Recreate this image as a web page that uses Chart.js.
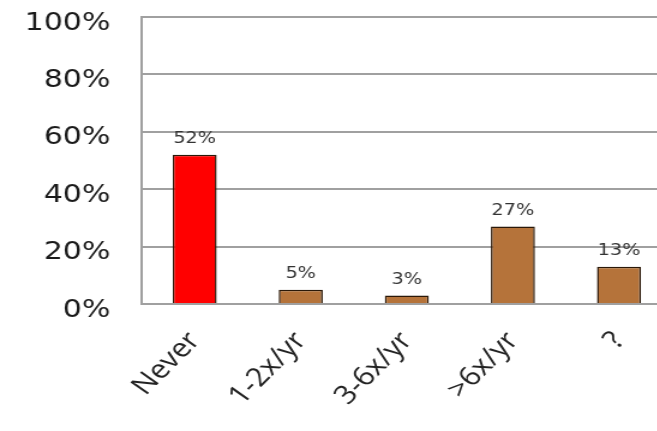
<!DOCTYPE html>
<html>
<head>
<meta charset="utf-8">
<script src="https://cdn.jsdelivr.net/npm/chart.js@4"></script>
<style>
    html, body { margin: 0; padding: 0; background: #fff; overflow: hidden; }
    #wrap { width: 657px; height: 431px; overflow: hidden; }
    #freqChart { display: block; }
</style>
</head>
<body>
<div id="wrap">
    <!-- the reference is stretched sideways, so the canvas is too -->
    <canvas id="freqChart" width="560" height="431" style="width:672px;height:431px"></canvas>
</div>
<script>
const categories = ['Never', '1-2x/yr', '3-6x/yr', '>6x/yr', '?'];
const percents = [52, 5, 3, 27, 13];
const barColors = ['#FF0000', '#B5733A', '#B5733A', '#B5733A', '#B5733A'];
const yTicks = [0, 20, 40, 60, 80, 100];

const fontFamily = '"DejaVu Sans", Verdana, sans-serif';

// value labels on top of each bar
const valueLabels = {
    id: 'valueLabels',
    afterDatasetsDraw(chart) {
        const ctx = chart.ctx;
        const meta = chart.getDatasetMeta(0);
        ctx.save();
        ctx.font = '16px ' + fontFamily;
        ctx.fillStyle = '#333';
        ctx.textAlign = 'center';
        ctx.textBaseline = 'bottom';
        meta.data.forEach((bar, i) => {
            ctx.fillText(percents[i] + '%', bar.x, bar.y - 8);
        });
        ctx.restore();
    }
};

const ctx = document.getElementById('freqChart').getContext('2d');
const freqChart = new Chart(ctx, {
    type: 'bar',
    data: {
        labels: categories,
        datasets: [{
            data: percents,
            backgroundColor: barColors,
            borderColor: '#2a1808',
            borderWidth: 1.5,
            borderSkipped: 'bottom',
            barPercentage: 0.415,
            categoryPercentage: 1
        }]
    },
    options: {
        responsive: false,
        animation: false,
        devicePixelRatio: 1,
        layout: { padding: { top: 17, left: 0, right: 0, bottom: 0 } },
        plugins: {
            legend: { display: false },
            tooltip: { enabled: false }
        },
        scales: {
            x: {
                grid: { display: false, drawTicks: false },
                border: { color: '#a0a0a0', width: 2 },
                ticks: {
                    color: '#222',
                    font: { family: '"Open Sans", sans-serif', size: 26 },
                    minRotation: 50,
                    maxRotation: 50,
                    padding: 22
                },
                afterFit(scale) {
                    scale.height = 127;
                    scale.paddingLeft = 0;
                    scale.paddingRight = 0;
                }
            },
            y: {
                min: 0,
                max: 100,
                afterBuildTicks(scale) {
                    scale.ticks = yTicks.map(v => ({ value: v }));
                },
                grid: { color: '#a0a0a0', lineWidth: 2, drawTicks: false },
                border: { color: '#a0a0a0', width: 2 },
                ticks: {
                    color: '#1a1a1a',
                    font: { family: fontFamily, size: 25 },
                    padding: 26,
                    labelOffset: 6,
                    callback: v => v + '%'
                },
                afterFit(scale) {
                    scale.width = 118;
                    scale.paddingTop = 0;
                    scale.paddingBottom = 0;
                }
            }
        }
    },
    plugins: [valueLabels]
});
</script>
</body>
</html>
